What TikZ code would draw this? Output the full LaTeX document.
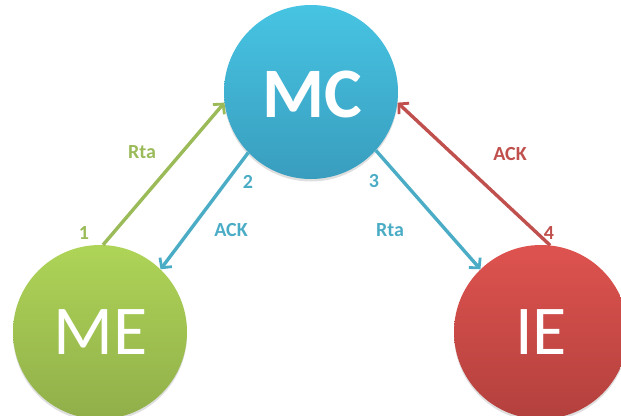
\documentclass[tikz,border=0pt]{standalone}
\usepackage{fontspec}
\setmainfont{Carlito}
\usetikzlibrary{arrows.meta,shadows}
\definecolor{mcTop}{HTML}{47C4E3}
\definecolor{mcBot}{HTML}{399DBE}
\definecolor{meTop}{HTML}{AED457}
\definecolor{meBot}{HTML}{91AF4A}
\definecolor{ieTop}{HTML}{DE534F}
\definecolor{ieBot}{HTML}{B3403D}
\definecolor{lnGreen}{HTML}{9BBB59}
\definecolor{lnBlue}{HTML}{4BACC6}
\definecolor{lnRed}{HTML}{C0504D}
\tikzset{
  bubble/.style={circle, minimum size=174pt, inner sep=0pt, text=white,
    drop shadow={opacity=0.25, shadow xshift=0pt, shadow yshift=-2.5pt}},
  bigbold/.style={font=\fontsize{71}{71}\selectfont\bfseries},
  bigreg/.style={font=\fontsize{70}{70}\selectfont},
  conn/.style={line width=3.4pt, -{Straight Barb[length=7pt,width=15pt,line width=2.8pt]}},
  lbl/.style={font=\fontsize{20}{20}\selectfont\bfseries, inner sep=0pt}
}
\begin{document}
\begin{tikzpicture}[x=1pt,y=-1pt]
\useasboundingbox (0,0) rectangle (621,415);
\clip (0,0) rectangle (621,415);
\node[bubble, top color=mcTop, bottom color=mcBot] (mc) at (311,92) {};
\node[bubble, top color=meTop, bottom color=meBot] (me) at (100,332) {};
\node[bubble, top color=ieTop, bottom color=ieBot] (ie) at (541,332) {};
\node[bigbold, text=white] (mct) at (312,94) {MC};
\node[bigreg, text=white] (met) at (101,332) {ME};
\node[bigreg, text=white] (iet) at (541,332) {IE};
\draw[conn, lnGreen] (me.88) -- (mc.187);
\draw[conn, lnBlue] (mc.224) -- (me.46);
\draw[conn, lnBlue] (mc.318) -- (ie.134);
\draw[conn, lnRed] (ie.84) -- (mc.353);
\node[lbl, text=lnGreen] (l1) at (142,152) {Rta};
\node[lbl, text=lnGreen] (n1) at (84,233) {1};
\node[lbl, text=lnBlue] (n2) at (248,182) {2};
\node[lbl, text=lnBlue] (l2) at (231,230) {ACK};
\node[lbl, text=lnBlue] (n3) at (374,181) {3};
\node[lbl, text=lnBlue] (l3) at (390,230) {Rta};
\node[lbl, text=lnRed] (l4) at (510,154) {ACK};
\node[lbl, text=lnRed] (n4) at (549,233) {4};
\end{tikzpicture}
\end{document}
